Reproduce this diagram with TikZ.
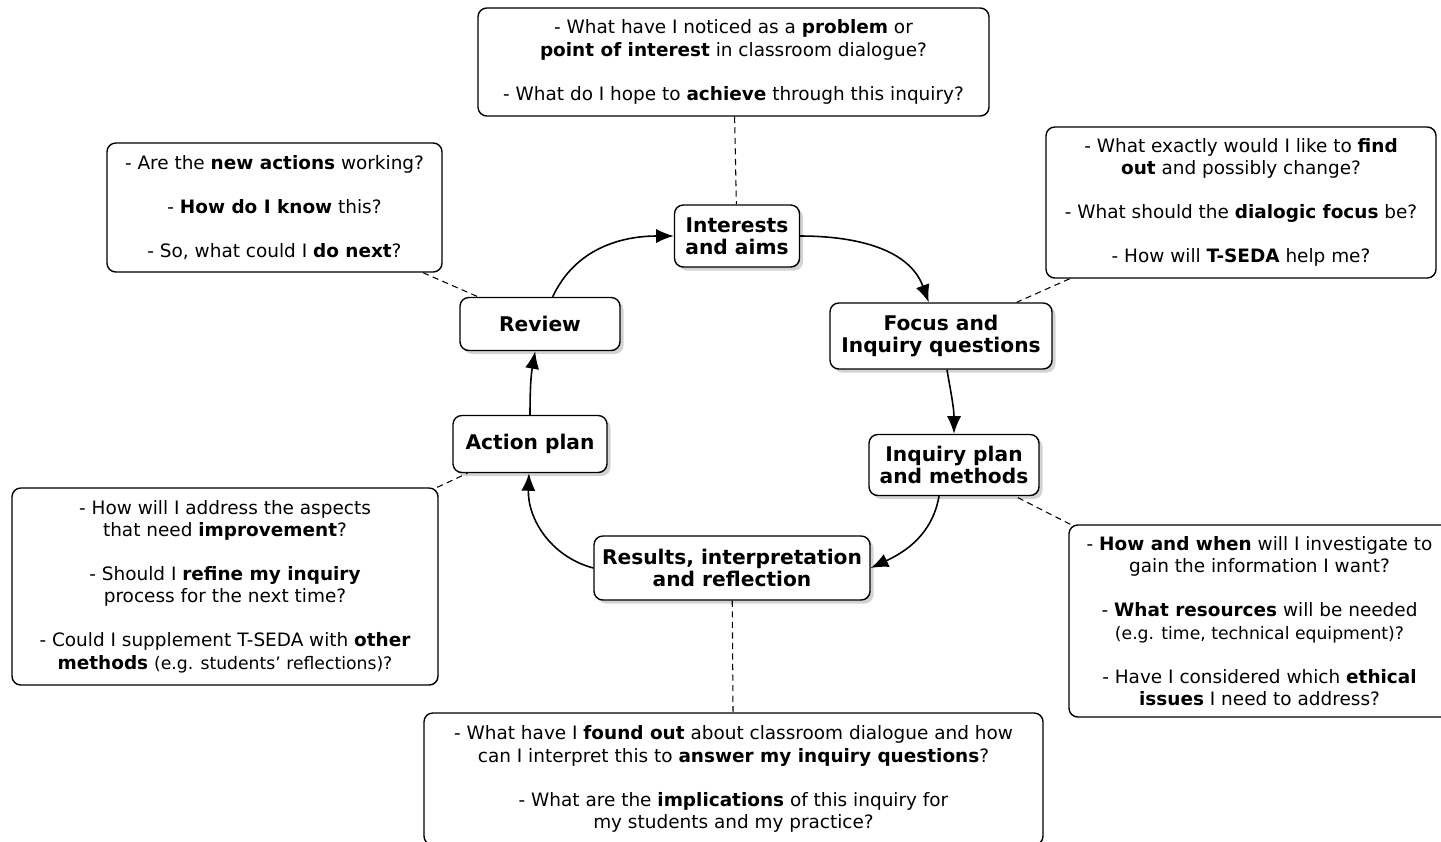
\documentclass[tikz,border=0pt]{standalone}
\usepackage{fontspec}
\setmainfont{DejaVu Sans}
\usetikzlibrary{arrows.meta,shadows}
\tikzset{
    stage/.style = {draw, thick, rounded corners=5pt, fill=white,
        drop shadow={shadow xshift=2pt, shadow yshift=-2pt, opacity=0.35},
        align=center, inner sep=2pt,
        font=\fontsize{11.5}{12.6}\selectfont\bfseries},
    question/.style = {draw, thick, rounded corners=5pt, fill=white,
        align=center, inner sep=2pt,
        font=\fontsize{10.5}{12.8}\selectfont},
    arrow/.style = {draw, line width=0.9pt, -{Latex[length=10pt,width=8pt]}},
    link/.style = {draw, line width=0.6pt, dash pattern=on 3.5pt off 2.5pt}
}
\newcommand{\qgap}{\\[12.2pt]}
\newcommand{\smallnote}[1]{{\fontsize{9.8}{12.8}\selectfont #1}}
\begin{document}
\begin{tikzpicture}
    \useasboundingbox (0,0) rectangle (28.82,-16.82);
    % stages of the cycle
    \node[stage, minimum width=2.5cm, minimum height=1.24cm] (interests) at (14.74,-4.72) {Interests\\and aims};
    \node[stage, minimum width=4.44cm, minimum height=1.32cm] (focus) at (18.82,-6.72) {Focus and\\Inquiry questions};
    \node[stage, minimum width=3.4cm, minimum height=1.22cm] (inqplan) at (19.08,-9.3) {Inquiry plan\\and methods};
    \node[stage, minimum width=5.52cm, minimum height=1.28cm] (results) at (14.64,-11.36) {Results, interpretation\\and reflection};
    \node[stage, minimum width=3.08cm, minimum height=1.14cm] (action) at (10.6,-8.88) {Action plan};
    \node[stage, minimum width=3.2cm, minimum height=1.06cm] (review) at (10.8,-6.48) {Review};
    % questions
    \node[question, minimum width=10.22cm, minimum height=2.16cm] (qinterests) at (14.67,-1.24)
        {- What have I noticed as a \textbf{problem} or\\\textbf{point of interest} in classroom dialogue?\qgap
         - What do I hope to \textbf{achieve} through this inquiry?};
    \node[question, minimum width=6.7cm, minimum height=2.58cm] (qreview) at (5.49,-4.15)
        {- Are the \textbf{new actions} working?\qgap
         - \textbf{How do I know} this?\qgap
         - So, what could I \textbf{do next}?};
    \node[question, minimum width=7.8cm, minimum height=3.02cm] (qfocus) at (24.82,-4.05)
        {- What exactly would I like to \textbf{find}\\\textbf{out} and possibly change?\qgap
         - What should the \textbf{dialogic focus} be?\qgap
         - How will \textbf{T-SEDA} help me?};
    \node[question, minimum width=8.52cm, minimum height=3.94cm] (qaction) at (4.5,-11.73)
        {- How will I address the aspects\\that need \textbf{improvement}?\qgap
         - Should I \textbf{refine my inquiry}\\process for the next time?\qgap
         - Could I supplement T-SEDA with \textbf{other}\\\textbf{methods} \smallnote{(e.g. students' reflections)?}};
    \node[question, minimum width=7.62cm, minimum height=3.84cm] (qinqplan) at (25.19,-12.42)
        {- \textbf{How and when} will I investigate to\\gain the information I want?\qgap
         - \textbf{What resources} will be needed\\\smallnote{(e.g. time, technical equipment)?}\qgap
         - Have I considered which \textbf{ethical}\\\textbf{issues} I need to address?};
    \node[question, minimum width=12.38cm, minimum height=2.64cm] (qresults) at (14.67,-15.58)
        {- What have I \textbf{found out} about classroom dialogue and how\\can I interpret this to \textbf{answer my inquiry questions}?\qgap
         - What are the \textbf{implications} of this inquiry for\\my students and my practice?};
    % links from questions to stages
    \draw[link] (qinterests) -- (interests);
    \draw[link] (qreview) -- (review);
    \draw[link] (qfocus) -- (focus);
    \draw[link] (qaction) -- (action);
    \draw[link] (qinqplan) -- (inqplan);
    \draw[link] (qresults) -- (results);
    % the cycle
    \draw[arrow] (review) to[out=65, in=180] (interests);
    \draw[arrow] (interests) to[out=0, in=110] (focus);
    \draw[arrow] (focus) to[out=-80, in=90] (inqplan);
    \draw[arrow] ([xshift=-0.3cm]inqplan.south) to[out=-100, in=25] (results.east);
    \draw[arrow] (results.west) to[out=165, in=-92] (action);
    \draw[arrow] (action) to[out=90, in=-100] (review);
\end{tikzpicture}
\end{document}
